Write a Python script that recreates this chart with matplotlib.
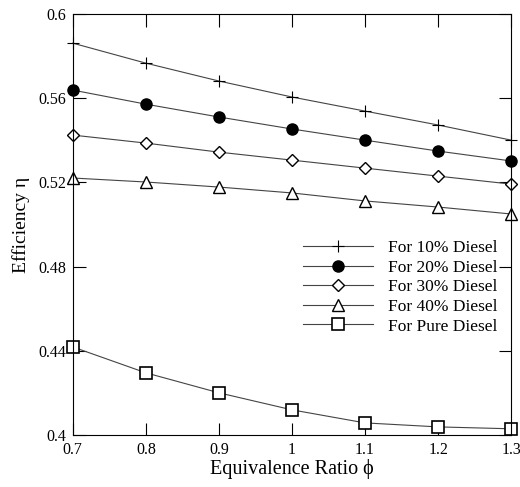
import numpy as np
import matplotlib.pyplot as plt

plt.rcParams['font.family'] = ['Liberation Serif', 'DejaVu Serif']

phi = [0.7, 0.8, 0.9, 1.0, 1.1, 1.2, 1.3]
eff_10 = [0.5862, 0.5767, 0.5682, 0.5606, 0.5539, 0.5473, 0.5401]
eff_20 = [0.5639, 0.5572, 0.5511, 0.5454, 0.5401, 0.5349, 0.5302]
eff_30 = [0.5425, 0.5387, 0.5344, 0.5306, 0.5268, 0.5230, 0.5192]
eff_40 = [0.5221, 0.5202, 0.5178, 0.5150, 0.5112, 0.5083, 0.5050]
eff_pure = [0.4418, 0.4295, 0.4200, 0.4119, 0.4057, 0.4038, 0.4029]

labels = ['For 10% Diesel', 'For 20% Diesel', 'For 30% Diesel',
          'For 40% Diesel', 'For Pure Diesel']

fig = plt.figure(figsize=(5.2, 4.87), dpi=100)
ax = fig.add_axes([0.140, 0.107, 0.843, 0.864])

line_kw = dict(color='#444444', linewidth=0.8, markeredgecolor='black',
               clip_on=False)
ax.plot(phi, eff_10, marker='+', markersize=8, markeredgewidth=0.8,
        label=labels[0], **line_kw)
ax.plot(phi, eff_20, marker='o', markersize=8, markerfacecolor='black',
        label=labels[1], **line_kw)
ax.plot(phi, eff_30, marker='D', markersize=6, markerfacecolor='white',
        markeredgewidth=1.0, label=labels[2], **line_kw)
ax.plot(phi, eff_40, marker='^', markersize=8, markerfacecolor='white',
        markeredgewidth=1.0, label=labels[3], **line_kw)
ax.plot(phi, eff_pure, marker='s', markersize=8.5, markerfacecolor='white',
        markeredgewidth=1.2, label=labels[4], **line_kw)

ax.set_xlim(0.7, 1.3)
ax.set_ylim(0.4, 0.6)
ax.set_xticks([0.7, 0.8, 0.9, 1.0, 1.1, 1.2, 1.3])
ax.set_xticklabels(['0.7', '0.8', '0.9', '1', '1.1', '1.2', '1.3'])
ax.set_yticks([0.4, 0.44, 0.48, 0.52, 0.56, 0.6])
ax.set_yticklabels(['0.4', '0.44', '0.48', '0.52', '0.56', '0.6'])
ax.tick_params(direction='in', top=True, right=True, length=9, width=0.8,
               labelsize=11.5, pad=5)
for sp in ax.spines.values():
    sp.set_linewidth(0.8)

ax.set_xlabel('Equivalence Ratio \u03d5', fontsize=14.5, labelpad=1)
ax.set_ylabel('Efficiency \u03b7', fontsize=14, labelpad=6)

ax.legend(loc='upper left', bbox_to_anchor=(0.51, 0.48), frameon=False,
          fontsize=12.5, handlelength=4.0, labelspacing=0.2, handletextpad=0.85,
          borderaxespad=0)

fig.savefig('out.png', dpi=100)
